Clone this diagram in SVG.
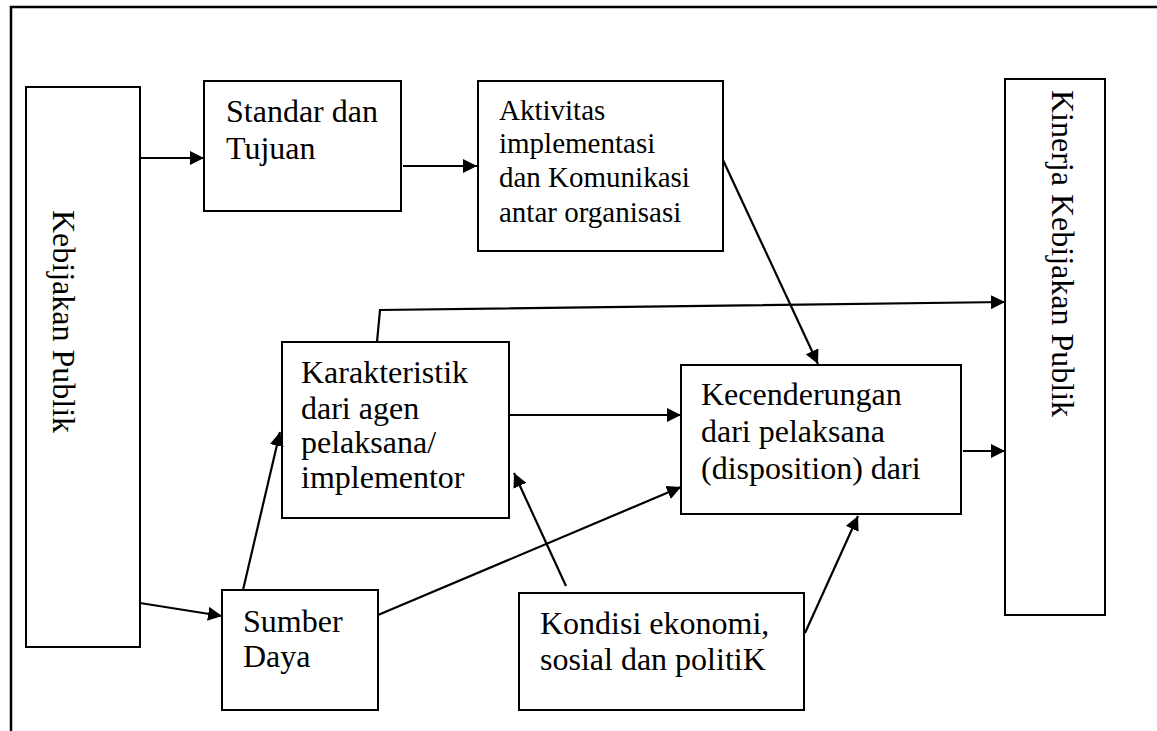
<svg xmlns="http://www.w3.org/2000/svg" width="1157" height="731" viewBox="0 0 1157 731">
<style>
.box{fill:#fff;stroke:#000;stroke-width:2}
.c{fill:none;stroke:#000;stroke-width:2.2}
</style>
<defs>
<marker id="ah" markerUnits="userSpaceOnUse" markerWidth="15" markerHeight="14" refX="14" refY="7" orient="auto">
<path d="M0,0 L14,7 L0,14 z" fill="#000"/>
</marker>
</defs>
<rect width="1157" height="731" fill="#fff"/>
<path d="M11,731 L11,7 L1160,7" fill="none" stroke="#000" stroke-width="2.5"/>

<g font-family="Liberation Serif, Tinos, DejaVu Serif, serif" font-size="32" fill="#000">
<g id="kebijakan-publik">
<rect class="box" x="26" y="87" width="114" height="560"/>
<text transform="translate(53,210) rotate(90)">Kebijakan Publik</text>
</g>
<g id="standar-tujuan">
<rect class="box" x="204" y="81" width="197" height="130"/>
<text x="226" y="122">Standar dan</text>
<text x="226" y="159">Tujuan</text>
</g>
<g id="aktivitas" font-size="29">
<rect class="box" x="478" y="81" width="245" height="170"/>
<text x="499" y="120">Aktivitas</text>
<text x="499" y="153">implementasi</text>
<text x="499" y="187">dan Komunikasi</text>
<text x="499" y="222">antar organisasi</text>
</g>
<g id="kinerja">
<rect class="box" x="1005" y="79" width="100" height="536"/>
<text transform="translate(1052,90) rotate(90)">Kinerja Kebijakan Publik</text>
</g>
<g id="karakteristik">
<rect class="box" x="282" y="342" width="227" height="176"/>
<text x="301" y="383">Karakteristik</text>
<text x="301" y="419">dari agen</text>
<text x="301" y="453">pelaksana/</text>
<text x="301" y="488">implementor</text>
</g>
<g id="kecenderungan">
<rect class="box" x="681" y="365" width="280" height="149"/>
<text x="701" y="405">Kecenderungan</text>
<text x="701" y="442">dari pelaksana</text>
<text x="701" y="479">(disposition) dari</text>
</g>
<g id="sumber-daya">
<rect class="box" x="222" y="590" width="156" height="120"/>
<text x="243" y="632">Sumber</text>
<text x="243" y="667">Daya</text>
</g>
<g id="kondisi">
<rect class="box" x="519" y="593" width="285" height="117"/>
<text x="540" y="634">Kondisi ekonomi,</text>
<text x="540" y="670">sosial dan politiK</text>
</g>
</g>

<g id="connectors">
<path class="c" d="M140,158 L204,158" marker-end="url(#ah)"/>
<path class="c" d="M403,166 L477,166" marker-end="url(#ah)"/>
<path class="c" d="M723,160 L818,364" marker-end="url(#ah)"/>
<path class="c" d="M377,342 L380,310 L1005,302" marker-end="url(#ah)"/>
<path class="c" d="M509,415 L681,415" marker-end="url(#ah)"/>
<path class="c" d="M963,451 L1005,451" marker-end="url(#ah)"/>
<path class="c" d="M140,603 L222,616" marker-end="url(#ah)"/>
<path class="c" d="M243,590 L280,432" marker-end="url(#ah)"/>
<path class="c" d="M378,615 L681,487" marker-end="url(#ah)"/>
<path class="c" d="M566,586 L514,473" marker-end="url(#ah)"/>
<path class="c" d="M805,633 L858,516" marker-end="url(#ah)"/>
</g>
</svg>
